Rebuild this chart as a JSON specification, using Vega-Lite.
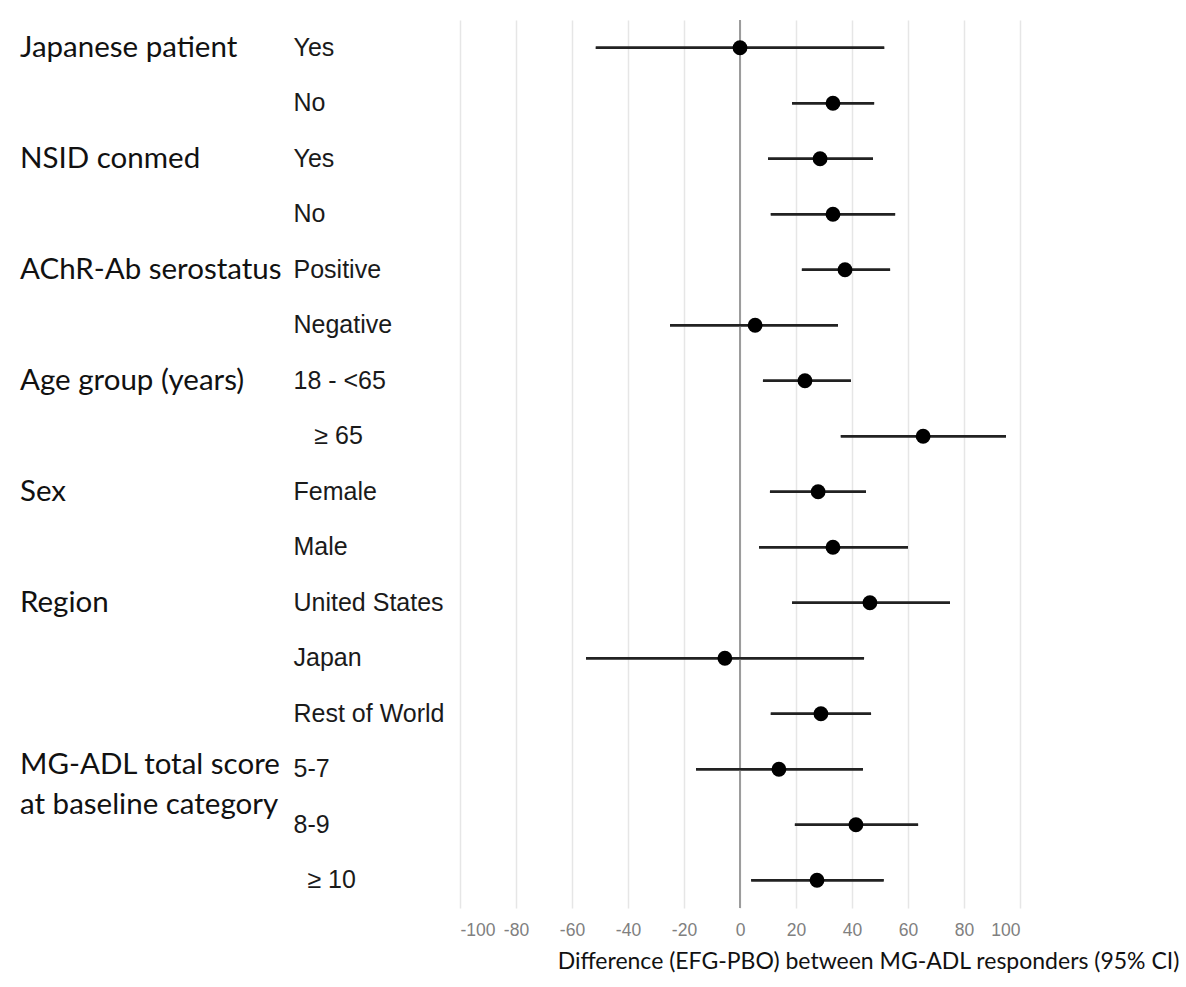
{
  "$schema": "https://vega.github.io/schema/vega-lite/v6.json",
  "width": 560,
  "height": 888,
  "padding": {"left": 20, "top": 19, "right": 4, "bottom": 4},
  "background": "white",
  "config": {"view": {"stroke": null}},
  "datasets": {
    "est": [
      {"key": "01|Yes", "lo": -51.5, "est": 0, "hi": 51.5},
      {"key": "02|No", "lo": 18.6, "est": 33.2, "hi": 47.9},
      {"key": "03|Yes", "lo": 10, "est": 28.6, "hi": 47.5},
      {"key": "04|No", "lo": 11, "est": 33.2, "hi": 55.4},
      {"key": "05|Positive", "lo": 22.1, "est": 37.5, "hi": 53.6},
      {"key": "06|Negative", "lo": -25, "est": 5.4, "hi": 35},
      {"key": "07|18 - <65", "lo": 8.2, "est": 23.2, "hi": 39.6},
      {"key": "08|\u200b\u00a0\u00a0\u00a0≥\u00a065", "lo": 36, "est": 65.4, "hi": 95},
      {"key": "09|Female", "lo": 10.7, "est": 27.9, "hi": 45},
      {"key": "10|Male", "lo": 6.8, "est": 33.2, "hi": 60},
      {"key": "11|United States", "lo": 18.6, "est": 46.4, "hi": 75},
      {"key": "12|Japan", "lo": -55, "est": -5.4, "hi": 44.3},
      {"key": "13|Rest of World", "lo": 11, "est": 28.9, "hi": 46.8},
      {"key": "14|5-7", "lo": -15.7, "est": 13.9, "hi": 43.9},
      {"key": "15|8-9", "lo": 19.6, "est": 41.4, "hi": 63.6},
      {"key": "16|\u200b\u00a0\u00a0≥\u00a010", "lo": 4, "est": 27.5, "hi": 51.3}
    ],
    "groups": [
      {"key": "01|Yes", "group": "Japanese patient"},
      {"key": "03|Yes", "group": "NSID conmed"},
      {"key": "05|Positive", "group": "AChR-Ab serostatus"},
      {"key": "07|18 - <65", "group": "Age group (years)"},
      {"key": "09|Female", "group": "Sex"},
      {"key": "11|United States", "group": "Region"}
    ],
    "groups2": [
      {"key": "14|5-7", "group": ["MG-ADL total score", "at baseline category"]}
    ]
  },
  "layer": [
    {
      "data": {"name": "est"},
      "mark": {"type": "rule", "color": "#222222", "strokeWidth": 2.5},
      "encoding": {
        "x": {
          "field": "lo",
          "type": "quantitative",
          "title": "Difference (EFG-PBO) between MG-ADL responders (95% CI)",
          "scale": {"domain": [-100, 100], "nice": false, "zero": false},
          "axis": {
            "values": [-100, -80, -60, -40, -20, 0, 20, 40, 60, 80, 100],
            "labelExpr": "toString(datum.value)",
            "grid": true,
            "gridColor": "#e6e6e6",
            "gridWidth": 1.5,
            "domain": false,
            "ticks": false,
            "tickSize": 0,
            "labelPadding": 13,
            "labelFont": "Liberation Sans",
            "labelFontSize": 17.5,
            "labelColor": "#808080",
            "titleFont": "Lato",
            "titleFontSize": 23,
            "titleFontWeight": "normal",
            "titleColor": "#111111",
            "titlePadding": 12,
            "titleX": 408,
            "titleAlign": "center"
          }
        },
        "x2": {"field": "hi"},
        "y": {
          "field": "key",
          "type": "nominal",
          "sort": "ascending",
          "title": null,
          "axis": {
            "labelExpr": "split(datum.label, '|')[1]",
            "labelAlign": "left",
            "labelPadding": 167,
            "ticks": false,
            "tickSize": 0,
            "domain": false,
            "grid": false,
            "labelFont": "Liberation Sans",
            "labelFontSize": 25,
            "labelColor": "#1a1a1a",
            "labelLimit": 400
          }
        }
      }
    },
    {
      "data": {"values": [{"z": 0}]},
      "mark": {"type": "rule", "color": "#9c9c9c", "strokeWidth": 2},
      "encoding": {
        "x": {"field": "z", "type": "quantitative", "title": "Difference (EFG-PBO) between MG-ADL responders (95% CI)"}
      }
    },
    {
      "data": {"name": "est"},
      "mark": {"type": "rule", "color": "#222222", "strokeWidth": 2.5},
      "encoding": {
        "x": {"field": "lo", "type": "quantitative", "title": "Difference (EFG-PBO) between MG-ADL responders (95% CI)"},
        "x2": {"field": "hi"},
        "y": {"field": "key", "type": "nominal", "sort": "ascending", "title": null}
      }
    },
    {
      "data": {"name": "est"},
      "mark": {"type": "circle", "size": 220, "color": "#000000", "opacity": 1},
      "encoding": {
        "x": {"field": "est", "type": "quantitative", "title": "Difference (EFG-PBO) between MG-ADL responders (95% CI)"},
        "y": {"field": "key", "type": "nominal", "sort": "ascending", "title": null}
      }
    },
    {
      "data": {"name": "groups"},
      "mark": {"type": "text", "align": "left", "baseline": "middle", "font": "Lato", "fontSize": 29.5, "color": "#111111"},
      "encoding": {
        "x": {"datum": -257.14, "type": "quantitative", "title": "Difference (EFG-PBO) between MG-ADL responders (95% CI)"},
        "y": {"field": "key", "type": "nominal", "sort": "ascending", "title": null},
        "text": {"field": "group"}
      }
    },
    {
      "data": {"name": "groups2"},
      "mark": {"type": "text", "align": "left", "baseline": "middle", "font": "Lato", "fontSize": 29.5, "color": "#111111", "lineHeight": 40, "dy": -4},
      "encoding": {
        "x": {"datum": -257.14, "type": "quantitative", "title": "Difference (EFG-PBO) between MG-ADL responders (95% CI)"},
        "y": {"field": "key", "type": "nominal", "sort": "ascending", "title": null},
        "text": {"field": "group"}
      }
    }
  ]
}
